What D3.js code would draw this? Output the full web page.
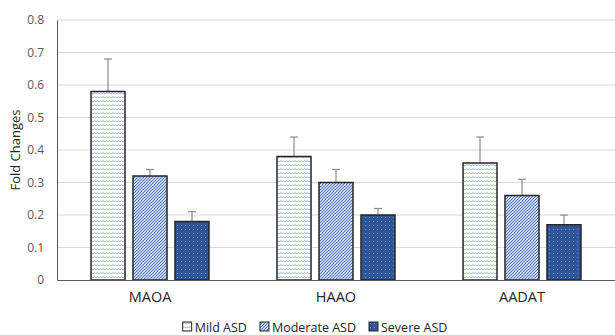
<!DOCTYPE html>
<html><head><meta charset="utf-8">
<script src="https://cdn.jsdelivr.net/npm/d3@7"></script>
<style>body{margin:0;background:#fff}svg{display:block}text{font-family:"Open Sans","Liberation Sans",sans-serif}</style>
</head><body><svg id="c" width="615" height="335"></svg>
<script>
const categories = ["MAOA","HAAO","AADAT"];
const series = ["Mild ASD","Moderate ASD","Severe ASD"];
const mildValues = [0.58,0.38,0.36];
const moderateValues = [0.32,0.30,0.26];
const severeValues = [0.18,0.20,0.17];
const mildErr = [0.10,0.06,0.08];
const moderateErr = [0.02,0.04,0.05];
const severeErr = [0.03,0.02,0.03];
const yTicks = [0,0.1,0.2,0.3,0.4,0.5,0.6,0.7,0.8];

const vals=[mildValues,moderateValues,severeValues];
const errs=[mildErr,moderateErr,severeErr];
const svg=d3.select("#c");
const m={l:57,r:0,t:20,b:55};
const W=615,H=335;
const x=d3.scaleBand().domain(categories).range([m.l,W-m.r]);
const xs=d3.scaleBand().domain(series).range([0,x.bandwidth()]).paddingInner(0.19).paddingOuter(0.81);
const y=d3.scaleLinear().domain([0,0.8]).range([H-m.b,m.t]);

const defs=svg.append("defs");
let p=defs.append("pattern").attr("id","pMild").attr("patternUnits","userSpaceOnUse").attr("width",6).attr("height",4);
p.append("rect").attr("width",6).attr("height",4).attr("fill","#fff");
p.append("path").attr("d","M0,1.5 L1.5,0.8 L3,2 L4.5,0.8 L6,1.5").attr("stroke","#8fa6d6").attr("stroke-width",0.9).attr("fill","none");
p=defs.append("pattern").attr("id","pMod").attr("patternUnits","userSpaceOnUse").attr("width",3).attr("height",3);
p.append("rect").attr("width",3).attr("height",3).attr("fill","#c5d3ee");
p.append("path").attr("d","M-1,1 L1,-1 M0,3 L3,0 M2,4 L4,2").attr("stroke","#4a6fb5").attr("stroke-width",0.9);
p=defs.append("pattern").attr("id","pSev").attr("patternUnits","userSpaceOnUse").attr("width",4).attr("height",4);
p.append("rect").attr("width",4).attr("height",4).attr("fill","#2f5597");
p.append("rect").attr("x",1).attr("y",1).attr("width",1).attr("height",1).attr("fill","#6f8fc9");
const fills=["url(#pMild)","url(#pMod)","url(#pSev)"];

svg.append("g").selectAll("line").data(yTicks.slice(1)).join("line")
 .attr("x1",m.l).attr("x2",W-m.r).attr("y1",d=>y(d)).attr("y2",d=>y(d))
 .attr("stroke","#d9d9d9").attr("stroke-width",1);

const ya=svg.append("g").attr("transform",`translate(${m.l},0)`).call(d3.axisLeft(y).tickValues(yTicks).tickSize(0).tickPadding(13).tickFormat(d=>d===0?"0":d3.format(".1f")(d)));
ya.select(".domain").attr("stroke","#595959").attr("stroke-width",1);
ya.selectAll("text").attr("fill","#595959").attr("font-size",12).style("font-family","'Open Sans',sans-serif");

categories.forEach((c,ci)=>{
  series.forEach((s,si)=>{
    const v=vals[si][ci], e=errs[si][ci];
    const bx=x(c)+xs(s), bw=xs.bandwidth();
    const cx=bx+bw/2;
    svg.append("line").attr("x1",cx).attr("x2",cx).attr("y1",y(v)).attr("y2",y(v+e)).attr("stroke","#8c8c8c").attr("stroke-width",1.2);
    svg.append("line").attr("x1",cx-4).attr("x2",cx+4).attr("y1",y(v+e)).attr("y2",y(v+e)).attr("stroke","#8c8c8c").attr("stroke-width",1.2);
    svg.append("rect").attr("x",bx).attr("y",y(v)).attr("width",bw).attr("height",y(0)-y(v))
      .attr("fill",fills[si]).attr("stroke","#262626").attr("stroke-width",1.5);
  });
});

const xa=svg.append("g").attr("transform",`translate(0,${y(0)})`).call(d3.axisBottom(x).tickSize(0).tickPadding(12));
xa.select(".domain").attr("stroke","#595959").attr("stroke-width",1);
xa.selectAll("text").attr("fill","#262626").attr("font-size",14.5).style("font-family","'Open Sans',sans-serif");

svg.append("text").attr("transform",`translate(20,${(m.t+H-m.b)/2}) rotate(-90)`).attr("text-anchor","middle")
 .attr("font-size",13).attr("fill","#262626").text("Fold Changes");

// legend, laid out by measured text widths and centred
const lg=svg.append("g");
const items=series.map((s,i)=>{
  const g=lg.append("g");
  g.append("rect").attr("x",0).attr("y",0).attr("width",9).attr("height",9).attr("fill",fills[i]).attr("stroke","#262626").attr("stroke-width",1);
  const t=g.append("text").attr("x",12).attr("y",9.5).attr("font-size",12.5).attr("fill","#262626").text(s);
  return {g,w:12+t.node().getComputedTextLength()};
});
const gap=13;
const total=d3.sum(items,d=>d.w)+gap*(items.length-1);
let cx0=315-total/2;
items.forEach(d=>{d.g.attr("transform",`translate(${cx0},322)`);cx0+=d.w+gap;});
</script></body></html>
